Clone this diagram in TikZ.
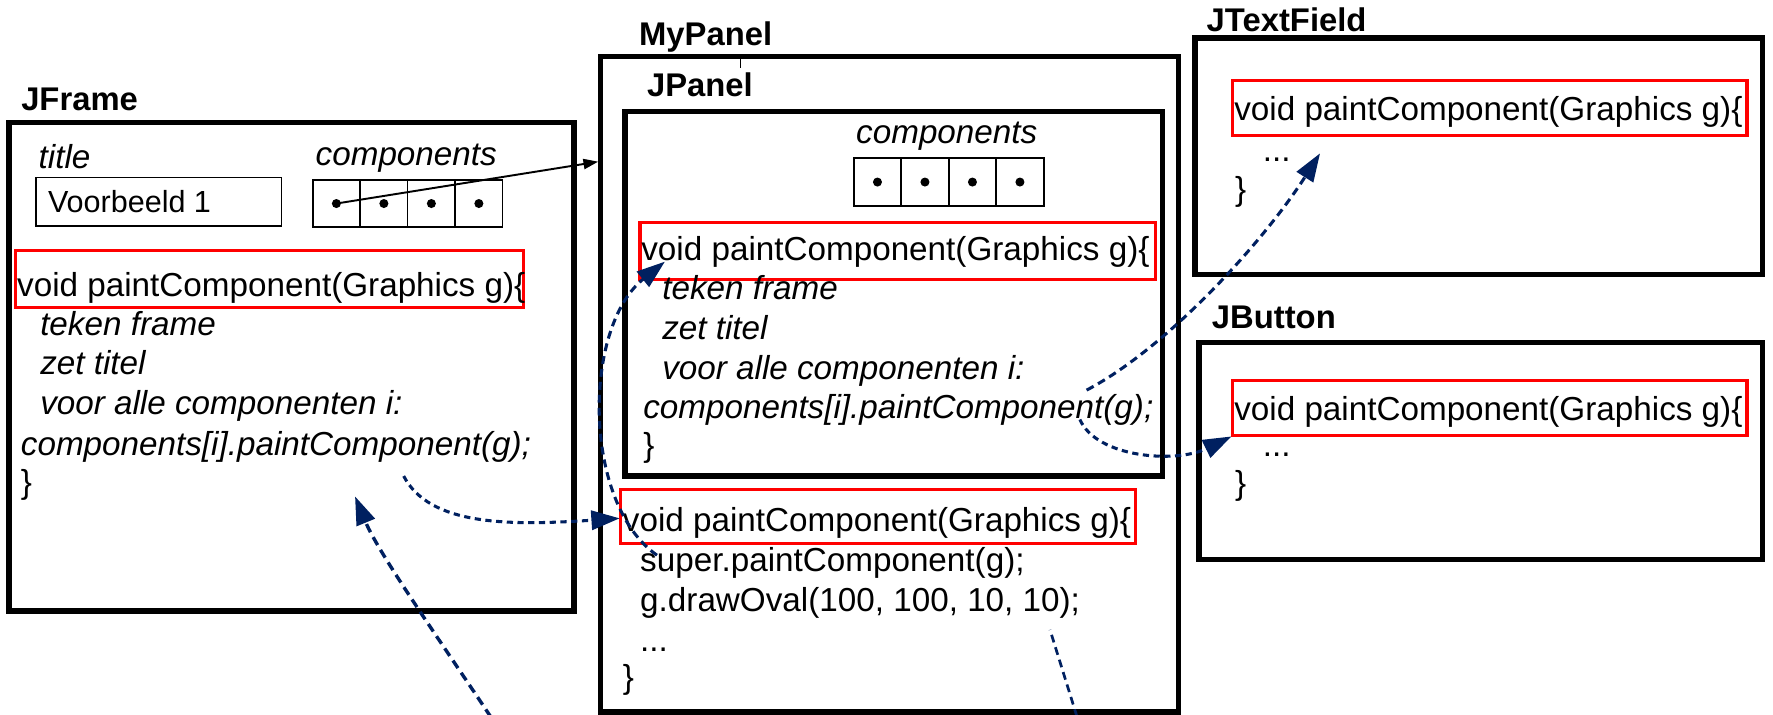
\documentclass[tikz,border=0pt]{standalone}
\usepackage{fontspec}
\setmainfont{Liberation Sans}
\usetikzlibrary{arrows.meta}
\definecolor{navy}{RGB}{0,32,96}
\begin{document}
\begin{tikzpicture}[x=1pt,y=-1pt,
  box/.style={draw,line width=4.8pt},
  cell/.style={draw,line width=1.5pt},
  redbox/.style={draw=red,line width=2.7pt,inner sep=0pt},
  code/.style={anchor=base west,inner sep=0pt,font=\fontsize{29.4}{35}\selectfont},
  icode/.style={anchor=base west,inner sep=0pt,font=\fontsize{29.4}{35}\selectfont\itshape},
  heading/.style={anchor=base west,inner sep=0pt,font=\fontsize{29}{34}\selectfont\bfseries},
  dot/.style={circle,fill,inner sep=0pt,minimum size=8pt},
  tip/.style={-{Triangle[length=25pt,width=17pt]}},
  call/.style={draw=navy,line width=2.7pt,dash pattern=on 5.5pt off 4pt,tip},
  calllong/.style={draw=navy,line width=3pt,dash pattern=on 8pt off 5pt}
]
\useasboundingbox (0,0) rectangle (1568,632);

% ---------- JFrame ----------
\node[heading] (jfT) at (18.6,97.3) {JFrame};
\draw[box] (8,108.5) rectangle (507.5,540.5);
\node[icode] (jfTitle) at (34,148.8) {title};
\node[draw,line width=1.5pt,minimum width=217pt,minimum height=42.6pt,inner sep=0pt] (jfVal) at (140.5,178.3) {};
\node[anchor=base west,inner sep=0pt,font=\fontsize{27}{32}\selectfont] (jfValT) at (42.3,187.5) {Voorbeeld 1};
\node[icode] (jfComp) at (279,146) {components};
\foreach \i in {0,...,3}{
  \draw[cell] (276.5+42*\i,159) rectangle (318.5+42*\i,201);
  \node[dot] (jfd\i) at (297.5+42*\i,180) {};
}
\node[redbox,minimum width=449.5pt,minimum height=50.3pt] (jfSig) at (238.25,246.85) {};
\node[code]  (jf1) at (15,262) {void paintComponent(Graphics g)\{};
\node[icode] (jf2) at (35.4,296.5) {teken frame};
\node[icode] (jf3) at (35.4,331.5) {zet titel};
\node[icode] (jf4) at (35.4,367) {voor alle componenten i:};
\node[icode] (jf5) at (18.3,402.4) {components[i].paintComponent(g);};
\node[code]  (jf6) at (18.3,436) {\}};

% ---------- MyPanel ----------
\node[heading] (mpT) at (565,39.8) {MyPanel};
\draw[box] (531,50) rectangle (1042,629.5);
\draw[line width=1pt] (654.6,50) -- (654.6,60);
\node[heading] (jpT) at (572,85.5) {JPanel};
\draw[box] (552.8,98.8) rectangle (1028,421);
\node[icode] (jpComp) at (757,126.8) {components};
\foreach \i in {0,...,3}{
  \draw[cell] (755+42*\i,140) rectangle (797+42*\i,182);
  \node[dot] (jpd\i) at (776+42*\i,161) {};
}
\node[redbox,minimum width=455.5pt,minimum height=50pt] (jpSig) at (793.75,222) {};
\node[code]  (jp1) at (567,230.5) {void paintComponent(Graphics g)\{};
\node[icode] (jp2) at (585.5,265) {teken frame};
\node[icode] (jp3) at (585.5,300.5) {zet titel};
\node[icode] (jp4) at (585.5,336) {voor alle componenten i:};
\node[icode] (jp5) at (568.7,370) {components[i].paintComponent(g);};
\node[code]  (jp6) at (568.7,404) {\}};

\node[redbox,minimum width=455pt,minimum height=48.5pt] (mpSig) at (776.5,456.75) {};
\node[code] (mp1) at (550.7,470) {void paintComponent(Graphics g)\{};
\node[code] (mp2) at (566,505.6) {super.paintComponent(g);};
\node[code] (mp3) at (566,541) {g.drawOval(100, 100, 10, 10);};
\node[code] (mp4) at (566,576) {...};
\node[code] (mp5) at (550.7,609) {\}};

% ---------- JTextField ----------
\node[heading] (tfT) at (1067,28) {JTextField};
\draw[box] (1057,33.5) rectangle (1558.7,243);
\node[redbox,minimum width=455pt,minimum height=48.4pt] (tfSig) at (1317.5,95.8) {};
\node[code] (tf1) at (1091.4,106.5) {void paintComponent(Graphics g)\{};
\node[code] (tf2) at (1116.7,143) {...};
\node[code] (tf3) at (1092,177.5) {\}};

% ---------- JButton ----------
\node[heading] (btT) at (1071.6,290.4) {JButton};
\draw[box] (1060.4,302.7) rectangle (1558.7,494.7);
\node[redbox,minimum width=455pt,minimum height=48.6pt] (btSig) at (1317.5,361) {};
\node[code] (bt1) at (1091.4,371.5) {void paintComponent(Graphics g)\{};
\node[code] (bt2) at (1116.7,404) {...};
\node[code] (bt3) at (1092,437) {\}};

% ---------- connectors ----------
\coordinate (mpEdge) at (529,143);
\draw[line width=1.7pt,-{Triangle[length=13pt,width=9pt]}] (jfd0.center) -- (mpEdge);

% JFrame loop -> MyPanel.paintComponent
\coordinate (a1s) at (357,421);
\coordinate (a1e) at (548,458.4);
\draw[call] (a1s) .. controls (380,465) and (450,465) .. (a1e);

% caller from below -> JFrame.paintComponent
\coordinate (a2s) at (434,634);
\coordinate (a2e) at (314,439);
\draw[calllong,tip] (a2s) .. controls (395,575) and (335,490) .. (a2e);

% drawOval -> off the page
\coordinate (a3s) at (952.5,634);
\coordinate (a3e) at (928.6,557);
\draw[calllong,line width=2.4pt,dash pattern=on 7pt off 4.5pt] (a3s) -- (a3e);

% super.paintComponent -> JPanel.paintComponent
\coordinate (a4s) at (581,491);
\coordinate (a4e) at (588,231.4);
\draw[call,dash pattern=on 7pt off 4.5pt] (a4s) .. controls (515,445) and (515,290) .. (a4e);

% JPanel loop -> JTextField.paintComponent
\coordinate (a5s) at (961,345);
\coordinate (a5e) at (1167.4,135.6);
\draw[call,dash pattern=on 7pt off 4.5pt] (a5s) .. controls (1035,306) and (1120,210) .. (a5e);

% JPanel loop -> JButton.paintComponent
\coordinate (a6s) at (955,371);
\coordinate (a6e) at (1089,386);
\draw[call] (a6s) .. controls (970,405) and (1040,410) .. (a6e);
\end{tikzpicture}
\end{document}
